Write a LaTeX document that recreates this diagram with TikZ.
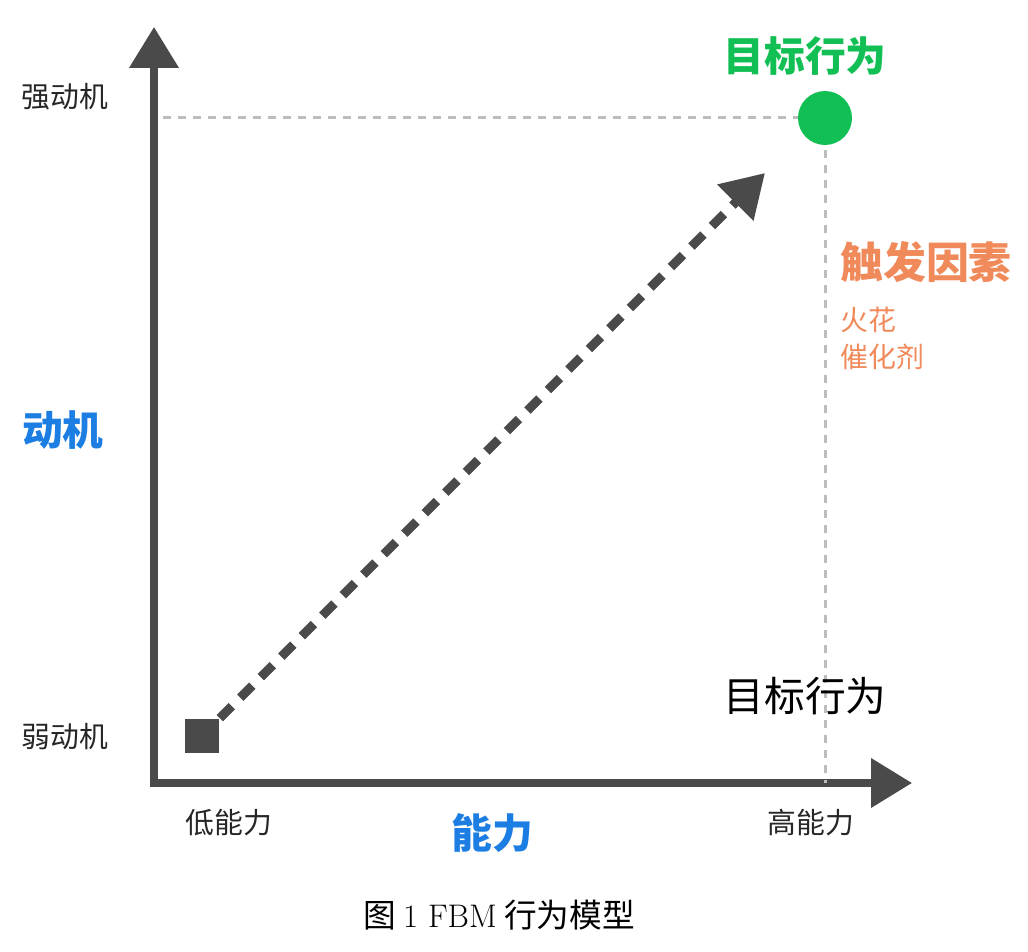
\documentclass[tikz,border=0pt]{standalone}
\usepackage{fontspec}
\newfontfamily\cjk{Noto Sans CJK SC}
\usetikzlibrary{arrows.meta, positioning}
\definecolor{axisgray}{HTML}{4A4A4A}
\definecolor{guidegray}{HTML}{BDBDBD}
\definecolor{fbmblue}{HTML}{1C7EE3}
\definecolor{fbmgreen}{HTML}{12BF55}
\definecolor{fbmorange}{HTML}{F08A5A}
\tikzset{
  axisline/.style={line join=miter, line width=0.15cm, axisgray,
    {Triangle[length=0.82cm, width=0.96cm]}-{Triangle[length=0.82cm, width=0.96cm]}},
  guide/.style={line width=0.06cm, guidegray, dash pattern=on 0.16cm off 0.14cm},
  push/.style={line width=0.18cm, axisgray, dash pattern=on 0.34cm off 0.24cm,
    -{Triangle[length=0.84cm, width=0.98cm]}},
  levellabel/.style={inner sep=0pt, text=black!85,
    font=\cjk\fontsize{16.4pt}{18pt}\selectfont},
  heading/.style={inner sep=0pt, text=#1,
    font=\cjk\bfseries\fontsize{23.2pt}{26pt}\selectfont}
}

\begin{document}
\begin{tikzpicture}[x=0.02cm, y=-0.02cm,
  note/.style={inner sep=0pt, anchor=west, text=fbmorange,
               font=\cjk\fontsize{15.9pt}{18pt}\selectfont}]
  \useasboundingbox (0,0) rectangle (1028,952);

  % axes
  \coordinate (ytop)   at (154,27);
  \coordinate (origin) at (154,783);
  \coordinate (xend)   at (912,783);
  \draw[axisline] (ytop) |- (xend);

  % goal point and guides
  \node[circle, fill=fbmgreen, minimum size=1.08cm, inner sep=0pt] (goal) at (825,118) {};
  \coordinate (hstart) at (163,118);
  \draw[guide] (hstart) -- (goal.west);
  \draw[guide] ([yshift=-0.1cm]goal.south) -- (goal.south |- origin);

  % start point and path
  \node[fill=axisgray, minimum size=0.7cm, inner sep=0pt] (low) at (202,736) {};
  \coordinate (tip) at (765,173);
  \draw[push] (low.north east) -- (tip);

  % axis labels
  \node[levellabel] (strong) at (65,97)   {强动机};
  \node[levellabel] (weak)   at (65,737)  {弱动机};
  \node[levellabel] (lowab)  at (229,823) {低能力};
  \node[levellabel] (highab) at (811,823) {高能力};
  \node[heading=fbmblue] (motiv) at (63,430)  {动机};
  \node[heading=fbmblue] (abil)  at (492,833) {能力};

  % goal and trigger texts
  \node[heading=fbmgreen] (target) at (805,56) {目标行为};
  \node[heading=fbmorange, font=\cjk\bfseries\fontsize{24.4pt}{27pt}\selectfont]
    (trigger) at (926,262) {触发因素};
  \node[note] (spark) at (840,320) {火花};
  \node[note] (catal) at (840,357) {催化剂};
  \node[inner sep=0pt, font=\cjk\fontsize{23.2pt}{26pt}\selectfont]
    (behav) at (805,696) {目标行为};

  % caption
  \node[inner sep=0pt, font=\cjk\fontsize{18.6pt}{21pt}\selectfont]
    (cap) at (499,915) {图 {\rmfamily 1 FBM} 行为模型};
\end{tikzpicture}
\end{document}
